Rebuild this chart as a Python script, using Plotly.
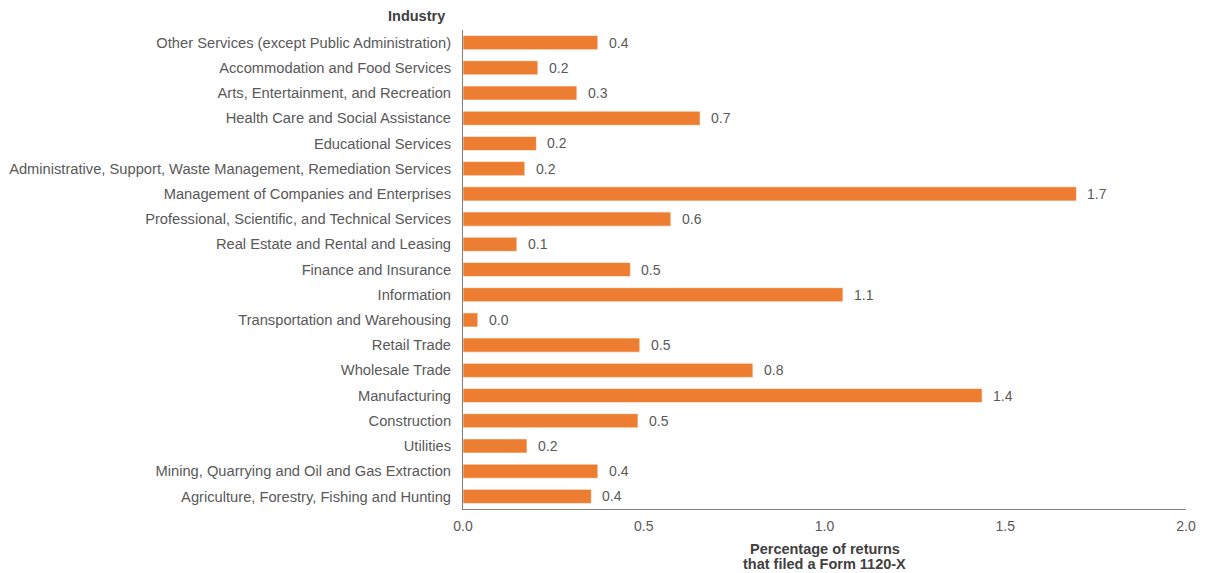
import plotly.graph_objects as go

# Industries listed top to bottom as they appear on the chart
industries = [
    "Other Services (except Public Administration)",
    "Accommodation and Food Services",
    "Arts, Entertainment, and Recreation",
    "Health Care and Social Assistance",
    "Educational Services",
    "Administrative, Support, Waste Management, Remediation Services",
    "Management of Companies and Enterprises",
    "Professional, Scientific, and Technical Services",
    "Real Estate and Rental and Leasing",
    "Finance and Insurance",
    "Information",
    "Transportation and Warehousing",
    "Retail Trade",
    "Wholesale Trade",
    "Manufacturing",
    "Construction",
    "Utilities",
    "Mining, Quarrying and Oil and Gas Extraction",
    "Agriculture, Forestry, Fishing and Hunting",
]

# Percentage of returns that filed a Form 1120-X
pct_filed = [
    0.373, 0.207, 0.315, 0.656, 0.203, 0.171, 1.697, 0.575, 0.149, 0.463,
    1.051, 0.041, 0.489, 0.802, 1.436, 0.484, 0.177, 0.373, 0.355,
]

x_ticks = [0.0, 0.5, 1.0, 1.5, 2.0]
x_tick_labels = ["0.0", "0.5", "1.0", "1.5", "2.0"]
x_title_lines = ["Percentage of returns", "that filed a Form 1120-X"]

BAR = "#ED7D31"
TEXT = "#595959"
DARK = "#404040"
FONT = "Arial, Liberation Sans, sans-serif"

fig = go.Figure(
    go.Bar(
        x=pct_filed,
        y=industries,
        orientation="h",
        marker=dict(color=BAR, line=dict(color="rgba(255,255,255,0.6)", width=1)),
        width=0.56,
        hoverinfo="x+y",
    )
)

# Value labels to the right of each bar
for name, v in zip(industries, pct_filed):
    fig.add_annotation(
        x=v, y=name, xref="x", yref="y",
        text=f"{v:.1f}", showarrow=False,
        xanchor="left", xshift=9,
        font=dict(family=FONT, size=14, color=TEXT),
    )

# Category axis heading
fig.add_annotation(
    x=0, y=1, xref="paper", yref="paper",
    xanchor="right", yanchor="bottom",
    xshift=-16, yshift=4,
    text="<b>Industry</b>", showarrow=False,
    font=dict(family=FONT, size=14.5, color=DARK),
)

# Value axis title, two tightly spaced lines
for i, line in enumerate(x_title_lines):
    fig.add_annotation(
        x=0.5, y=0, xref="paper", yref="paper",
        xanchor="center", yanchor="middle",
        yshift=-40 - 15 * i,
        text=f"<b>{line}</b>", showarrow=False,
        font=dict(family=FONT, size=14.5, color=DARK),
    )

fig.update_layout(
    width=1205, height=573,
    margin=dict(l=463, r=19, t=30, b=64),
    paper_bgcolor="white", plot_bgcolor="white",
    showlegend=False,
    font=dict(family=FONT, size=14, color=TEXT),
    xaxis=dict(
        range=[0, 2.0],
        tickvals=x_ticks, ticktext=x_tick_labels,
        showgrid=False, zeroline=False,
        showline=True, linecolor="#7F7F7F", linewidth=1,
        ticks="", ticklabelstandoff=4,
        tickfont=dict(family=FONT, size=14, color=TEXT),
        automargin=False,
    ),
    yaxis=dict(
        autorange="reversed",
        showgrid=False, zeroline=False,
        showline=True, linecolor="#7F7F7F", linewidth=1,
        ticks="", ticklabelstandoff=8,
        tickfont=dict(family=FONT, size=14.7, color=TEXT),
        automargin=False,
    ),
)

fig.write_html("out.html")
